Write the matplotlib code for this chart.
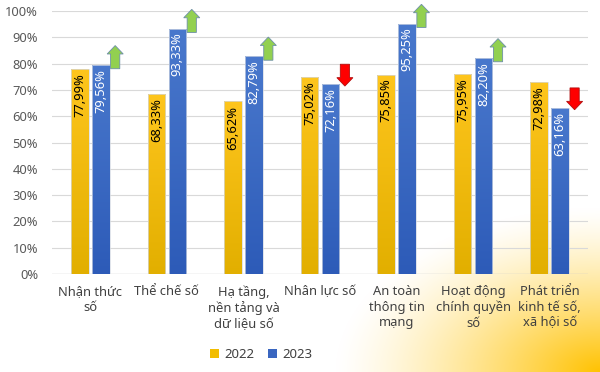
import matplotlib
matplotlib.use("Agg")
import matplotlib.pyplot as plt
import numpy as np
from matplotlib.colors import LinearSegmentedColormap
from matplotlib.patches import FancyArrow, Patch

# du lieu doc tu hinh
categories = ["Nhận thức\nsố", "Thể chế số", "Hạ tầng,\nnền tảng và\ndữ liệu số",
              "Nhân lực số", "An toàn\nthông tin\nmạng", "Hoạt động\nchính quyền\nsố",
              "Phát triển\nkinh tế số,\nxã hội số"]
vals_2022 = [77.99, 68.33, 65.62, 75.02, 75.85, 75.95, 72.98]
vals_2023 = [79.56, 93.33, 82.79, 72.16, 95.25, 82.20, 63.16]
series_names = ["2022", "2023"]

plt.rcParams['font.family'] = ['Noto Sans', 'DejaVu Sans']

fig = plt.figure(figsize=(6, 3.72), dpi=100)

# nen: vet vang hinh elip o goc duoi phai
bg = fig.add_axes([0, 0, 1, 1], zorder=-1)
H, W = 372, 600
xx, yy = np.meshgrid(np.arange(W), np.arange(H))
r = np.sqrt(((W - xx) / 265.0) ** 2 + ((H - yy) / 165.0) ** 2)
t = np.clip(1 - r, 0, 1) ** 1.3
gold = np.array([1.0, 0.76, 0.0])
img = np.ones((H, W, 3)) * (1 - t[..., None]) + gold * t[..., None]
bg.imshow(img, extent=[0, 1, 0, 1], aspect='auto', origin='upper')
bg.axis('off')

ax = fig.add_axes([0.0867, 0.2634, 0.8933, 0.707])
ax.patch.set_alpha(0)

x = np.arange(len(categories))
bw = 0.23
off = 0.137

def gradient_bars(xpos, vals, c_bot, c_top):
    cmap = LinearSegmentedColormap.from_list('g', [c_bot, c_top])
    grad = np.linspace(0, 1, 256).reshape(-1, 1)
    bars = ax.bar(xpos, vals, bw, facecolor='none', edgecolor='#d3d9e3', linewidth=0.5, zorder=3)
    for b in bars:
        bx, by = b.get_xy()
        h = b.get_height()
        im = ax.imshow(grad, extent=[bx - 0.02, bx + b.get_width() + 0.02, by, by + h * 1.03],
                       origin='lower', cmap=cmap, aspect='auto', zorder=2)
        im.set_clip_path(b)
    return bars

gradient_bars(x - off, vals_2022, '#E2AF00', '#FFC61E')
gradient_bars(x + off, vals_2023, '#2D5BB8', '#4A79CD')

ax.set_xlim(-0.5, len(categories) - 0.5)
ax.set_ylim(0, 100)

# nhan gia tri xoay doc
for i, (a, b) in enumerate(zip(vals_2022, vals_2023)):
    ax.annotate(f"{a:.2f}".replace('.', ',') + '%', (i - off, a), xytext=(0, -3),
                textcoords='offset points', rotation=90, ha='center', va='top',
                fontsize=9.3, color='black', zorder=5)
    ax.annotate(f"{b:.2f}".replace('.', ',') + '%', (i + off, b), xytext=(0, -3),
                textcoords='offset points', rotation=90, ha='center', va='top',
                fontsize=9.3, color='white', zorder=5)

# mui ten tang / giam
ax_x = 0.325
for i, (a, b) in enumerate(zip(vals_2022, vals_2023)):
    if b >= a:
        arr = FancyArrow(i + ax_x, b - 1.5, 0, 8.8, width=0.12, head_width=0.21,
                         head_length=3.2, length_includes_head=True,
                         facecolor='#92D050', edgecolor='#6d8fa8', linewidth=0.6, zorder=4)
    else:
        arr = FancyArrow(i + ax_x, b + 7.6, 0, -8.3, width=0.12, head_width=0.21,
                         head_length=3.2, length_includes_head=True,
                         facecolor='#FF0000', edgecolor='#b01010', linewidth=0.6, zorder=4)
    arr.set_clip_on(False)
    ax.add_patch(arr)

ax.set_yticks(np.arange(0, 101, 10))
ax.set_yticklabels([f"{v}%" for v in range(0, 101, 10)])
ax.set_xticks(x)
ax.set_xticklabels(categories, linespacing=1.25)
ax.tick_params(axis='y', length=0, pad=10, labelsize=9.3, labelcolor='#595959')
ax.tick_params(axis='x', length=0, pad=8, labelsize=9.3, labelcolor='#404040')
ax.grid(axis='y', color='#D9D9D9', linewidth=0.8, zorder=0)
ax.set_axisbelow(True)
for sp in ax.spines.values():
    sp.set_visible(False)
ax.axhline(0, color='#C8C8C8', linewidth=0.9, zorder=1)

handles = [Patch(facecolor='#F2BD00', edgecolor='none'),
           Patch(facecolor='#3A66C0', edgecolor='none')]
fig.legend(handles, series_names, loc='center', bbox_to_anchor=(0.435, 0.046), ncol=2,
           frameon=False, fontsize=9.5, handlelength=0.7, handleheight=0.7,
           handletextpad=0.4, columnspacing=1.0, labelcolor='#404040')

fig.savefig("out.png", dpi=100)
